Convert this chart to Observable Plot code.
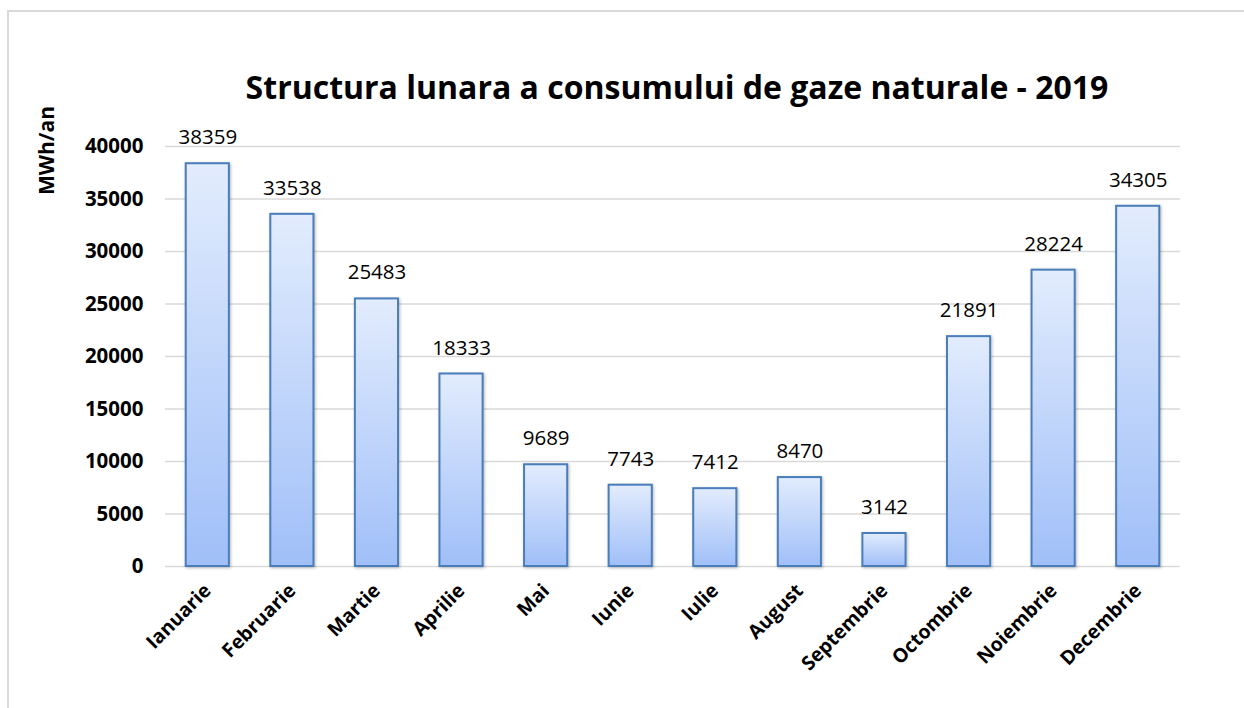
<!DOCTYPE html>
<html>
<head>
<meta charset="utf-8">
<script src="https://cdn.jsdelivr.net/npm/d3@7"></script>
<script src="https://cdn.jsdelivr.net/npm/@observablehq/plot@0.6"></script>
<style>
  html, body { margin: 0; padding: 0; background: #fff; }
  #wrap { position: relative; width: 1244px; height: 708px; overflow: hidden; }
  #frame { position: absolute; left: 7px; top: 10px; width: 1240px; height: 720px; border: 2px solid #d9d9d9; box-sizing: border-box; }
  #chart { position: absolute; left: 0; top: 0; }
  .bars rect { filter: drop-shadow(1.5px 1.5px 1.5px rgba(0,0,0,0.28)); }
</style>
</head>
<body>
<div id="wrap"><div id="frame"></div><div id="chart"></div></div>
<script>
const months = ["Ianuarie","Februarie","Martie","Aprilie","Mai","Iunie","Iulie","August","Septembrie","Octombrie","Noiembrie","Decembrie"];
const values = [38359, 33538, 25483, 18333, 9689, 7743, 7412, 8470, 3142, 21891, 28224, 34305];
const yTicks = [0, 5000, 10000, 15000, 20000, 25000, 30000, 35000, 40000];
const titleText = "Structura lunara a consumului de gaze naturale - 2019";
const yLabel = "MWh/an";

const data = months.map((m, i) => ({month: m, value: values[i]}));
const font = "'Open Sans', sans-serif";

const plot = Plot.plot({
  width: 1244,
  height: 708,
  marginLeft: 165,
  marginRight: 64,
  marginTop: 146,
  marginBottom: 142,
  style: {fontFamily: font, background: "transparent", overflow: "visible"},
  x: {domain: months, paddingInner: 0.49, paddingOuter: 0.245, round: false, label: null},
  y: {domain: [0, 40000], label: null},
  marks: [
    Plot.ruleY(yTicks, {stroke: "#d9d9d9", strokeWidth: 1.6}),
    Plot.barY(data, {x: "month", y: "value", fill: "url(#barGrad)", stroke: "#4a7ebb", strokeWidth: 2, className: "bars"}),
    Plot.text(data, {x: "month", y: "value", text: d => String(d.value), dy: -26, lineAnchor: "middle", fontSize: 20.5, fill: "#000"}),
    Plot.axisY({ticks: yTicks, tickSize: 0, tickPadding: 22, tickFormat: d => String(d), fontSize: 20.5, fontWeight: "bold", fill: "#000", label: null}),
    Plot.axisX({tickSize: 0, tickPadding: 21, tickRotate: -45, fontSize: 19.5, fontWeight: "bold", fill: "#000", label: null, dx: 0}),
    Plot.text([titleText], {frameAnchor: "top", dx: 4, dy: -58, lineAnchor: "middle", fontSize: 32, fontWeight: "bold", fill: "#000"}),
    Plot.text([yLabel], {frameAnchor: "top-left", dx: -118, dy: 4, rotate: -90, textAnchor: "middle", lineAnchor: "middle", fontSize: 21, fontWeight: "bold", fill: "#000"})
  ]
});

const defs = d3.select(plot).insert("defs", ":first-child");
const g = defs.append("linearGradient").attr("id", "barGrad").attr("x1", 0).attr("y1", 0).attr("x2", 0).attr("y2", 1);
g.append("stop").attr("offset", "0%").attr("stop-color", "#e2ecfd");
g.append("stop").attr("offset", "100%").attr("stop-color", "#a0bff8");

document.getElementById("chart").appendChild(plot);
</script>
</body>
</html>
